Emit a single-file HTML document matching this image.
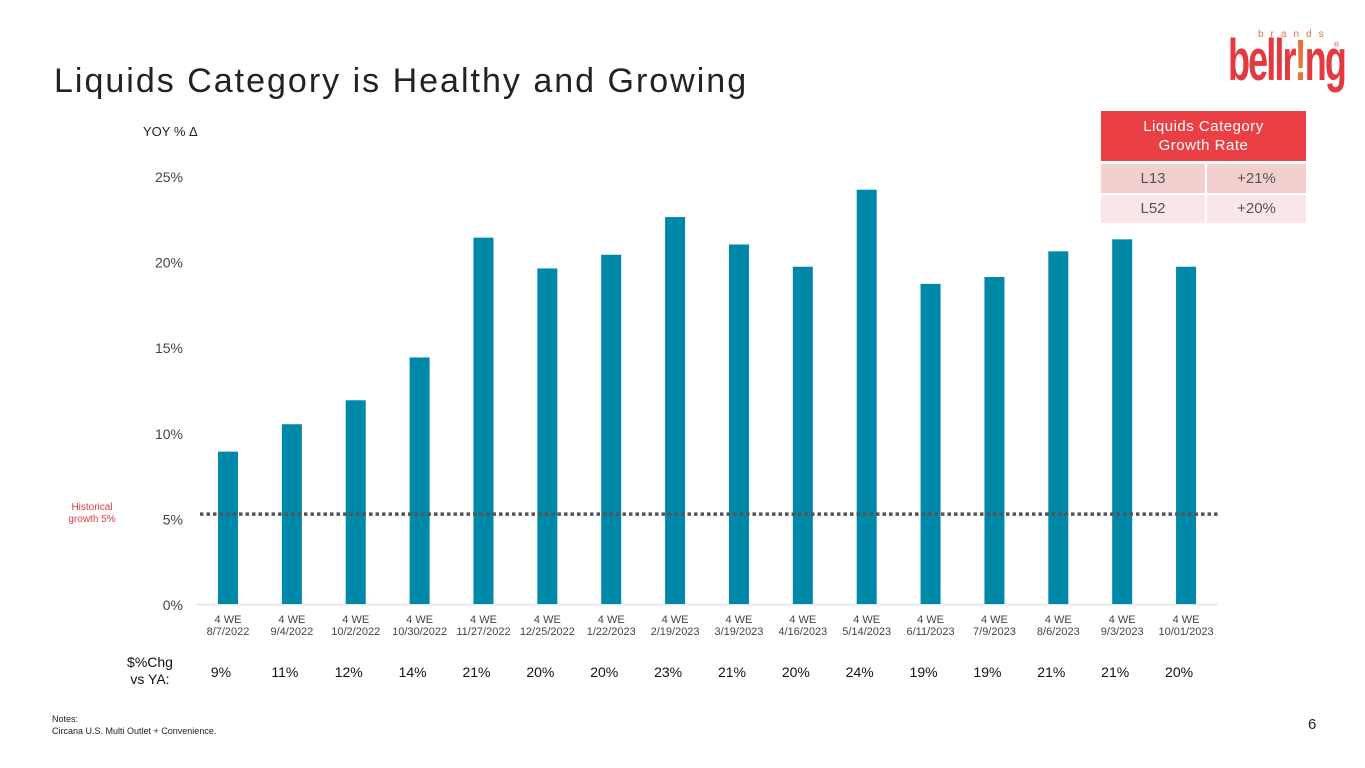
<!DOCTYPE html>
<html><head><meta charset="utf-8"><style>
body{margin:0;width:1365px;height:768px;background:#fff;font-family:"Liberation Sans",sans-serif;position:relative;overflow:hidden}
.abs{position:absolute}
</style></head><body>
<div class="abs" style="left:54px;top:62px;font-size:34px;letter-spacing:2px;color:#222">Liquids Category is Healthy and Growing</div>
<div class="abs" style="left:1228px;top:24px;width:112px;height:64px">
<div class="abs" style="left:30px;top:5px;font-size:10px;letter-spacing:7px;color:#e8703a">brands</div>
<div class="abs" style="left:0;top:3px;font-size:58px;font-weight:bold;color:#e23a3f;letter-spacing:-3px;transform:scaleX(0.62);transform-origin:left">bellr<span style="color:#e8703a">!</span>ng</div>
<div class="abs" style="left:106px;top:18px;font-size:7px;color:#e23a3f">®</div>
</div>
<div class="abs" style="left:143px;top:124px;font-size:13px;color:#222">YOY % Δ</div>
<div class="abs" style="left:52px;top:502px;width:80px;text-align:center;font-size:10px;line-height:12px;color:#e23a3f">Historical<br>growth 5%</div>
<div class="abs" style="left:120px;top:654px;width:60px;text-align:center;font-size:14px;line-height:17px;color:#111">$%Chg<br>vs YA:</div>
<div class="abs" style="left:1101px;top:111px;width:205px">
<div style="height:50px;background:#ea3f44;color:#fff;font-size:15px;line-height:19px;text-align:center;padding-top:6px;box-sizing:border-box;letter-spacing:0.5px">Liquids Category<br>Growth Rate</div>
<div style="display:flex;margin-top:3px;height:29px;font-size:15px;color:#555;line-height:29px">
<div style="width:104px;background:#f4cfcf;text-align:center">L13</div>
<div style="width:99px;margin-left:2px;background:#f4cfcf;text-align:center">+21%</div></div>
<div style="display:flex;margin-top:2px;height:28px;font-size:15px;color:#555;line-height:28px">
<div style="width:104px;background:#fae6e6;text-align:center">L52</div>
<div style="width:99px;margin-left:2px;background:#fae6e6;text-align:center">+20%</div></div>
</div>
<div class="abs" style="left:52px;top:713px;font-size:9px;line-height:12px;color:#222">Notes:<br>Circana U.S. Multi Outlet + Convenience.</div>
<div class="abs" style="left:1308px;top:716px;font-size:15px;color:#222">6</div>
<svg class="abs" style="left:0;top:0" width="1365" height="768" id="chart"></svg>
<script>
const categories=["8/7/2022","9/4/2022","10/2/2022","10/30/2022","11/27/2022","12/25/2022","1/22/2023","2/19/2023","3/19/2023","4/16/2023","5/14/2023","6/11/2023","7/9/2023","8/6/2023","9/3/2023","10/01/2023"];
const values=[8.9,10.5,11.9,14.4,21.4,19.6,20.4,22.6,21.0,19.7,24.2,18.7,19.1,20.6,21.3,19.7];
const chgLabels=["9%","11%","12%","14%","21%","20%","20%","23%","21%","20%","24%","19%","19%","21%","21%","20%"];
const yTicks=[0,5,10,15,20,25];
const historical=5.25;
const NS="http://www.w3.org/2000/svg",svg=document.getElementById('chart');
const y=v=>604-v*17.12;
const x=i=>228+i*63.87;
function mk(t,a){const e=document.createElementNS(NS,t);for(const k in a)e.setAttribute(k,a[k]);svg.appendChild(e);return e;}
const ax=mk('line',{x1:196,x2:1218,y1:604.5,y2:604.5,stroke:'#e5e5e5','stroke-width':1.5});


yTicks.forEach(t=>{const e=mk('text',{x:183,y:y(t)+6,'text-anchor':'end','font-size':14,fill:'#444'});e.textContent=t+'%';

});
values.forEach((v,i)=>{const b=mk('rect',{x:x(i)-10,y:y(v),width:20,height:604-y(v),fill:'#0088a8'});


const t1=mk('text',{x:x(i),y:623,'text-anchor':'middle','font-size':11,fill:'#444'});t1.textContent='4 WE';


const t2=mk('text',{x:x(i),y:635,'text-anchor':'middle','font-size':11,fill:'#444'});t2.textContent=categories[i];


const t3=mk('text',{x:x(i)-7,y:677,'text-anchor':'middle','font-size':14,fill:'#111'});t3.textContent=chgLabels[i];

});
const h=mk('line',{x1:200,x2:1218,y1:y(historical),y2:y(historical),stroke:'#555','stroke-width':3.5,'stroke-dasharray':'3.5 3'});


</script>
</body></html>
